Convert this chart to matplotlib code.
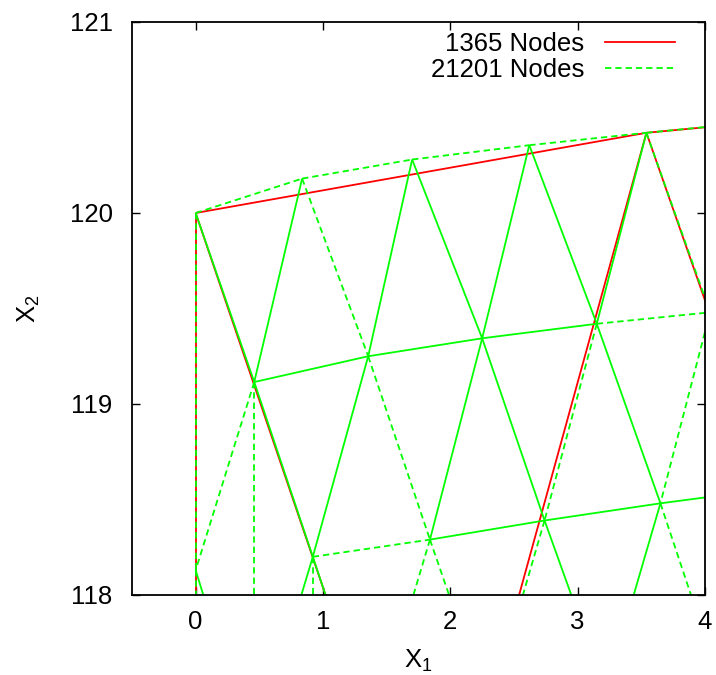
import matplotlib
matplotlib.use("Agg")
import matplotlib.pyplot as plt
from matplotlib.lines import Line2D

plt.rcParams['font.family'] = ['Liberation Sans', 'DejaVu Sans']
plt.rcParams['mathtext.default'] = 'regular'

RED = '#ff0000'
GREEN = '#00ff00'

# coarse mesh (1365 nodes)
red_x = [0.00, 3.54, 4.50, 4.08, 0.00, 1.02, 2.54]
red_y = [120.00, 120.42, 120.48, 119.39, 118.00, 118.00, 118.00]
red_edges = [(0, 1), (1, 2), (1, 3), (0, 4), (0, 5), (1, 6)]

# fine mesh (21201 nodes), three rows near the upper boundary
top_x = [0.00, 0.836, 1.70, 2.62, 3.54, 4.46]
top_y = [120.00, 120.18, 120.28, 120.355, 120.42, 120.48]
mid_x = [0.46, 1.355, 2.25, 3.15, 4.04]
mid_y = [119.115, 119.25, 119.344, 119.42, 119.48]
low_x = [0.00, 0.92, 1.84, 2.74, 3.65, 4.56]
low_y = [118.13, 118.20, 118.29, 118.39, 118.48, 118.56]
# edges leaving through the bottom of the window (y = 118)
cut_x = [0.00, 0.06, 0.46, 0.83, 0.92, 1.02, 1.71, 1.99, 2.57, 2.95, 3.44, 3.89]

nodes = {}
for i, (x, y) in enumerate(zip(top_x, top_y)):
    nodes['T%d' % i] = (x, y)
for i, (x, y) in enumerate(zip(mid_x, mid_y)):
    nodes['M%d' % i] = (x, y)
for i, (x, y) in enumerate(zip(low_x, low_y)):
    nodes['L%d' % i] = (x, y)
for i, x in enumerate(cut_x):
    nodes['C%d' % i] = (x, 118.0)

# edges drawn twice (overlapping dashes look solid) and once (dashed)
green_solid = [('T1', 'M0'), ('T0', 'M0'), ('T2', 'M1'), ('T2', 'M2'), ('T3', 'M2'),
               ('T3', 'M3'), ('T4', 'M3'),
               ('M0', 'M1'), ('M1', 'M2'), ('M2', 'M3'),
               ('M0', 'L1'), ('M1', 'L1'), ('M2', 'L2'), ('M2', 'L3'), ('M3', 'L4'),
               ('M4', 'L5'), ('L2', 'L3'), ('L3', 'L4'), ('L4', 'L5'),
               ('L0', 'C1'), ('L1', 'C3'), ('L1', 'C5'), ('L3', 'C9'), ('L4', 'C10')]
green_dashed = [('T0', 'T1'), ('T1', 'T2'), ('T2', 'T3'), ('T3', 'T4'), ('T4', 'T5'),
                ('T1', 'M1'), ('T4', 'M4'), ('M3', 'M4'),
                ('M0', 'L0'), ('M1', 'L2'), ('M3', 'L3'), ('M4', 'L4'),
                ('L1', 'L2'), ('T0', 'L0'), ('L0', 'C0'), ('M0', 'C2'),
                ('L1', 'C4'), ('L2', 'C6'), ('L2', 'C7'), ('L3', 'C8'), ('L4', 'C11')]

fig = plt.figure(figsize=(7.16, 6.75), dpi=100)
ax = fig.add_axes([132 / 716, 1 - 595 / 675, 573 / 716, 573 / 675])

lw = 1.3
dash = (3.5, 2.2)
for a, b in red_edges:
    ax.plot([red_x[a], red_x[b]], [red_y[a], red_y[b]], color=RED, lw=lw,
            solid_capstyle='butt')
for a, b in green_solid:
    (x0, y0), (x1, y1) = nodes[a], nodes[b]
    ax.plot([x0, x1], [y0, y1], color=GREEN, lw=lw, solid_capstyle='butt')
for a, b in green_dashed:
    (x0, y0), (x1, y1) = nodes[a], nodes[b]
    ax.plot([x0, x1], [y0, y1], color=GREEN, lw=lw, dashes=dash)

ax.set_xlim(-0.5, 4)
ax.set_ylim(118, 121)
ax.set_xticks([0, 1, 2, 3, 4])
ax.set_yticks([118, 119, 120, 121])
ax.tick_params(direction='in', length=6, width=1, top=True, right=True,
               labelsize=18.5)
ax.tick_params(axis='x', pad=11)
ax.tick_params(axis='y', pad=14)
for s in ax.spines.values():
    s.set_linewidth(1.3)

ax.set_xlabel('X$_1$', fontsize=18.5)
ax.set_ylabel('X$_2$', fontsize=18.5)
ax.xaxis.set_label_coords(0.5, -0.093)
ax.yaxis.set_label_coords(-0.157, 0.5)

handles = [Line2D([], [], color=RED, lw=lw),
           Line2D([], [], color=GREEN, lw=lw, dashes=dash)]
ax.legend(handles, ['1365 Nodes', '21201 Nodes'], loc='upper right',
          bbox_to_anchor=(0.948, 0.983), frameon=False, markerfirst=False,
          fontsize=18.5, handlelength=2.75, handletextpad=0.8, labelspacing=0.1,
          borderpad=0, borderaxespad=0)

fig.savefig('out.png', dpi=100)
